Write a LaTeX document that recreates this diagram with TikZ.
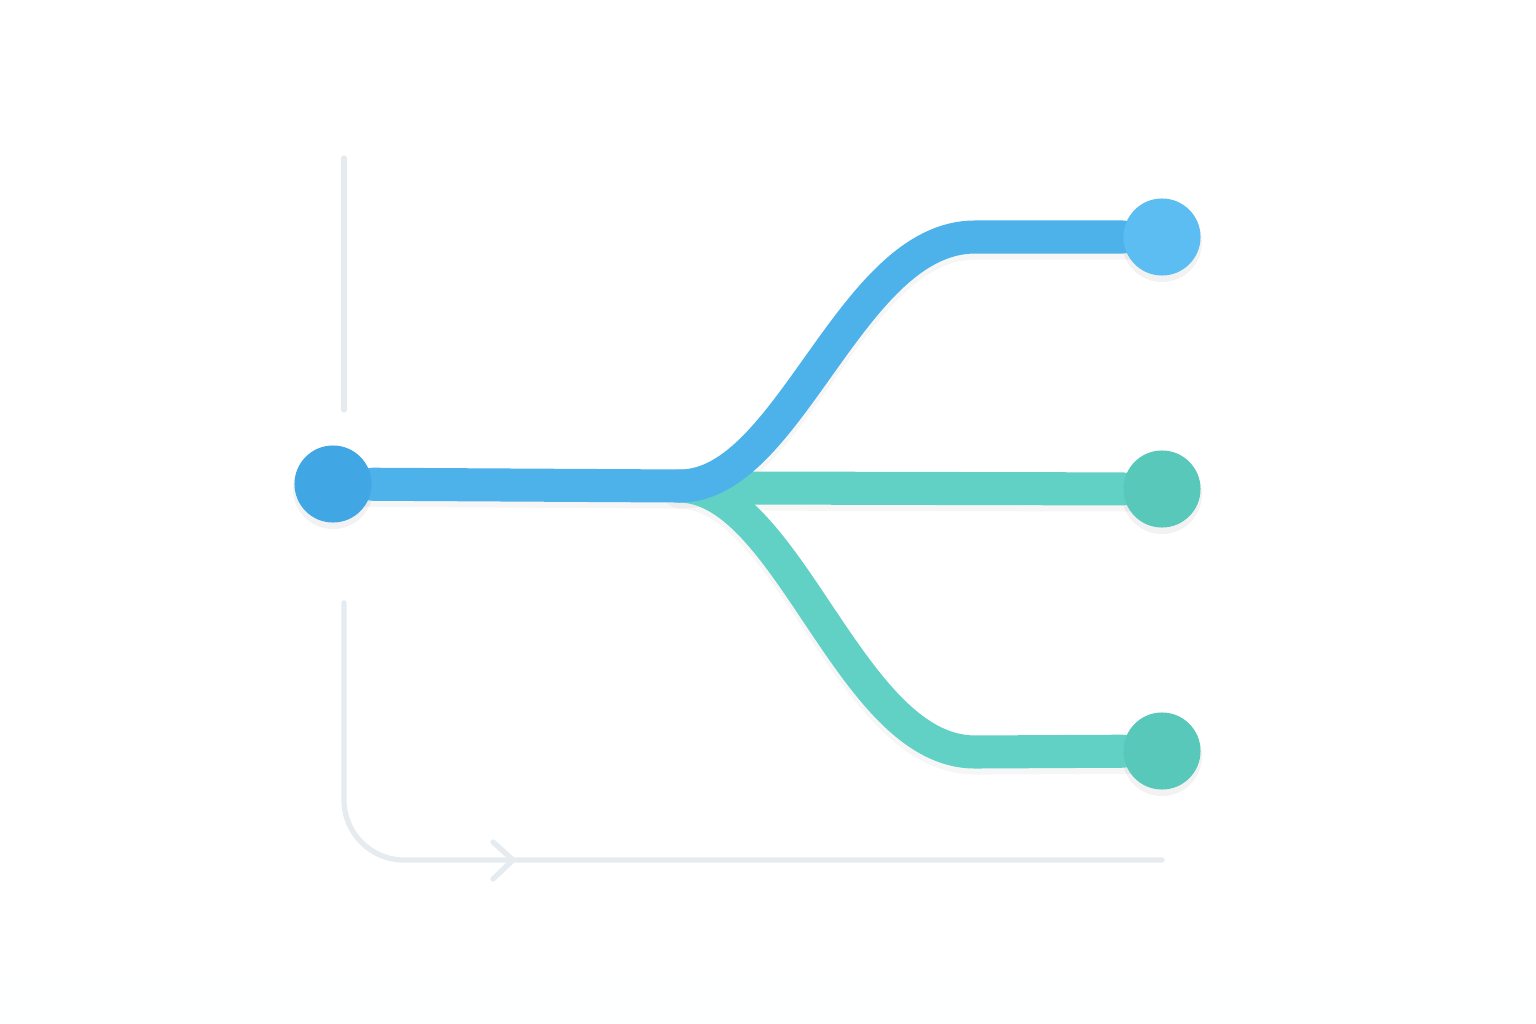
\documentclass[tikz,border=0pt]{standalone}
\usepackage{tikz}
\usepackage{xcolor}
\usetikzlibrary{arrows,shapes,backgrounds,positioning}

\definecolor{srcblue}{HTML}{41A6E4}
\definecolor{topblue}{HTML}{5CBDF2}
\definecolor{lineblue}{HTML}{4DB1EA}
\definecolor{tealline}{HTML}{62D1C5}
\definecolor{tealdot}{HTML}{58C8BB}
\definecolor{framegray}{HTML}{E5EBEE}
\definecolor{bgtop}{HTML}{F9FAFB}
\definecolor{bgbot}{HTML}{F0F3F5}

\begin{document}
\begin{tikzpicture}[x=0.01cm,y=-0.01cm]
        \tikzstyle{dot}=[circle, minimum size = 0.77cm, inner sep = 0pt]
        \tikzstyle{track}=[line width = 9.4pt, line cap = round]
        \tikzstyle{shade}=[line width = 10pt, line cap = round, black, opacity = 0.035, transform canvas = {yshift = -0.05cm}]
        \tikzstyle{frame}=[line width = 1.5pt, framegray, line cap = round]
        \useasboundingbox (0,0) rectangle (1536,1024);
        \shade[top color = bgtop, bottom color = bgbot] (0,0) rectangle (1536,1024);
        % guide frame
        \draw[frame] (344,158) -- (344,410);
        \draw[frame, rounded corners = 0.6cm] (344,603) |- (1162,860);
        \draw[frame] (493,842) -- (513,860) -- (493,879);
        % end points
        \coordinate (fork) at (680,486);
        \coordinate (tap) at (740,488);
        \node[dot] (src) at (333,484) {};
        \node[dot] (top) at (1162,237) {};
        \node[dot] (mid) at (1162,489) {};
        \node[dot] (bot) at (1162,751) {};
        % shadows
        \draw[shade] (fork) .. controls (790,488) and (850,752) .. (975,752) -- (bot.center);
        \draw[shade] (tap) -- (mid.center);
        \draw[shade] (src.center) -- (fork) .. controls (790,486) and (850,237) .. (975,237) -- (top.center);
        \foreach \n in {src,top,mid,bot}
          \fill[black, opacity = 0.05] ([yshift=-0.05cm]\n.center) circle (0.4cm);
        % tracks
        \draw[track, tealline] (fork) .. controls (790,488) and (850,752) .. (975,752) -- (bot);
        \draw[track, tealline] (tap) -- (mid);
        \draw[track, lineblue] (src) -- (fork) .. controls (790,486) and (850,237) .. (975,237) -- (top);
        % dots on top
        \node[dot, fill = srcblue] at (src) {};
        \node[dot, fill = topblue] at (top) {};
        \node[dot, fill = tealdot] at (mid) {};
        \node[dot, fill = tealdot] at (bot) {};
      \end{tikzpicture}
\end{document}
